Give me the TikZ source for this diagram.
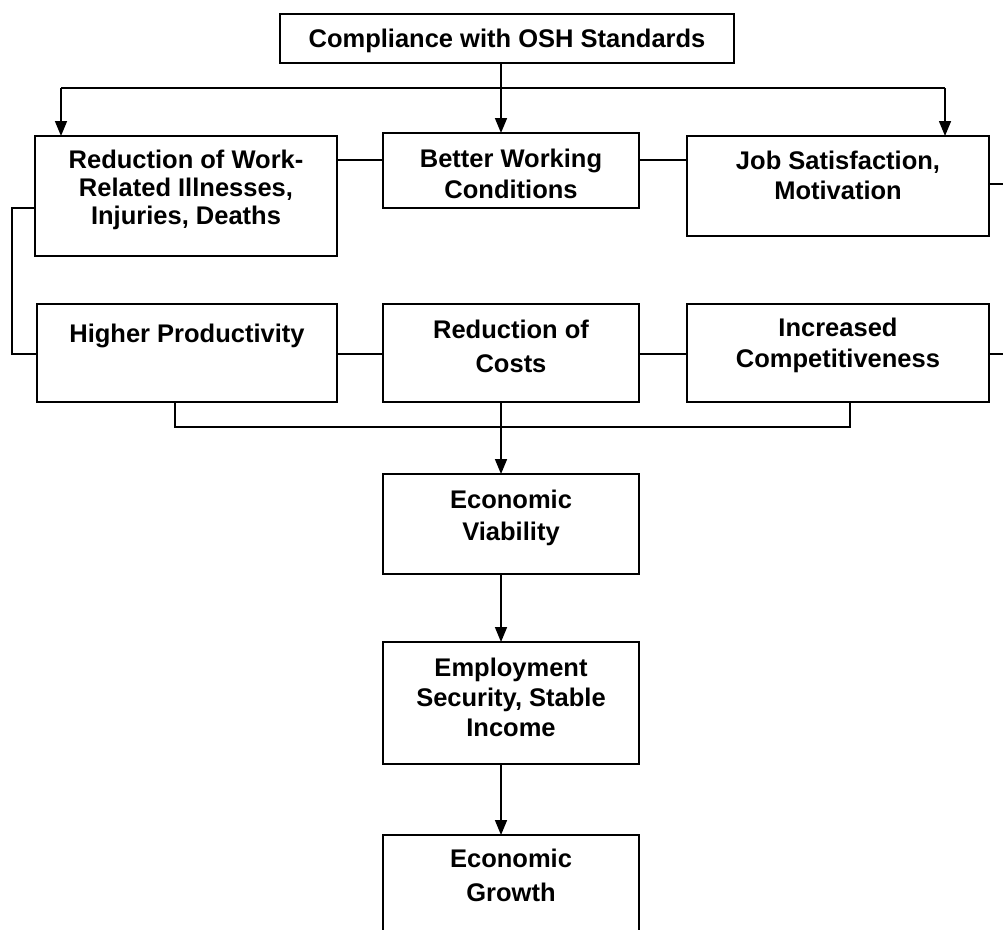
\documentclass[tikz,border=0pt]{standalone}
\usepackage{fontspec}
\setmainfont{Liberation Sans}
\usetikzlibrary{arrows.meta}
\tikzset{
  box/.style={draw=black, line width=1.6pt, inner sep=0pt, outer sep=0pt, anchor=north west},
  lbl/.style={anchor=north, inner sep=0pt, align=center, font=\bfseries\fontsize{25.5}{#1}\selectfont},
  lbl/.default=31,
  conn/.style={draw=black, line width=1.6pt},
  arr/.style={conn, -{Triangle[length=15pt,width=12pt]}}
}
\newcommand\mkbox[5]{\node[box, minimum width={(#4-#2)*1pt}, minimum height={(#5-#3)*1pt}] (#1) at (#2,-#3) {};}
\begin{document}
\begin{tikzpicture}[x=1pt,y=1pt]
\useasboundingbox (0,0) rectangle (1003,-929);
\clip (0,0) rectangle (1003,-929);
% boxes
\mkbox{top}{280}{14}{734}{63}
\mkbox{r1}{35}{136}{337}{256}
\mkbox{bwc}{383}{133}{639}{208}
\mkbox{js}{687}{136}{989}{236}
\mkbox{hp}{37}{304}{337}{402}
\mkbox{rc}{383}{304}{639}{402}
\mkbox{ic}{687}{304}{989}{402}
\mkbox{ev}{383}{474}{639}{574}
\mkbox{es}{383}{642}{639}{764}
\mkbox{eg}{383}{835}{639}{970}
% labels
\node[lbl] (ttop) at (507,-29.3) {Compliance with OSH Standards};
\node[lbl=28] (tr1) at (186,-149.8) {Reduction of Work-\\Related Illnesses,\\Injuries, Deaths};
\node[lbl=31] (tbwc) at (511,-148.8) {Better Working\\Conditions};
\node[lbl=30] (tjs) at (838,-150.8) {Job Satisfaction,\\Motivation};
\node[lbl] (thp) at (187,-323.8) {Higher Productivity};
\node[lbl=34] (trc) at (511,-319.8) {Reduction of\\Costs};
\node[lbl=31] (tic) at (838,-317.8) {Increased\\Competitiveness};
\node[lbl=32] (tev) at (511,-489.8) {Economic\\Viability};
\node[lbl=30] (tes) at (511,-657.8) {Employment\\Security, Stable\\Income};
\node[lbl=34] (teg) at (511,-848.8) {Economic\\Growth};
% coordinates
\coordinate (axis) at (501,0);
\coordinate (busl) at (61,-88);
\coordinate (busr) at (945,-88);
\coordinate (row1) at (0,-160);
\coordinate (row2) at (0,-354);
\coordinate (loopA) at (12,-208);
\coordinate (loopB) at (12,-354);
\coordinate (stub1) at (1003,-184);
\coordinate (stub2) at (1003,-354);
\coordinate (b1) at (175,-427);
\coordinate (b2) at (850,-427);
% connectors
\draw[conn] (busl) -- (busr);
\draw[arr] (top.south -| axis) -- (bwc.north -| axis);
\draw[arr] (busl) -- (r1.north -| busl);
\draw[arr] (busr) -- (js.north -| busr);
\draw[conn] (r1.east |- row1) -- (bwc.west |- row1);
\draw[conn] (bwc.east |- row1) -- (js.west |- row1);
\draw[conn] (js.east |- stub1) -- (stub1);
\draw[conn] (r1.west |- loopA) -- (loopA) -- (loopB) -- (hp.west |- loopB);
\draw[conn] (hp.east |- row2) -- (rc.west |- row2);
\draw[conn] (rc.east |- row2) -- (ic.west |- row2);
\draw[conn] (ic.east |- stub2) -- (stub2);
\draw[conn] (hp.south -| b1) -- (b1) -- (b2) -- (ic.south -| b2);
\draw[arr] (rc.south -| axis) -- (ev.north -| axis);
\draw[arr] (ev.south -| axis) -- (es.north -| axis);
\draw[arr] (es.south -| axis) -- (eg.north -| axis);
\end{tikzpicture}
\end{document}
